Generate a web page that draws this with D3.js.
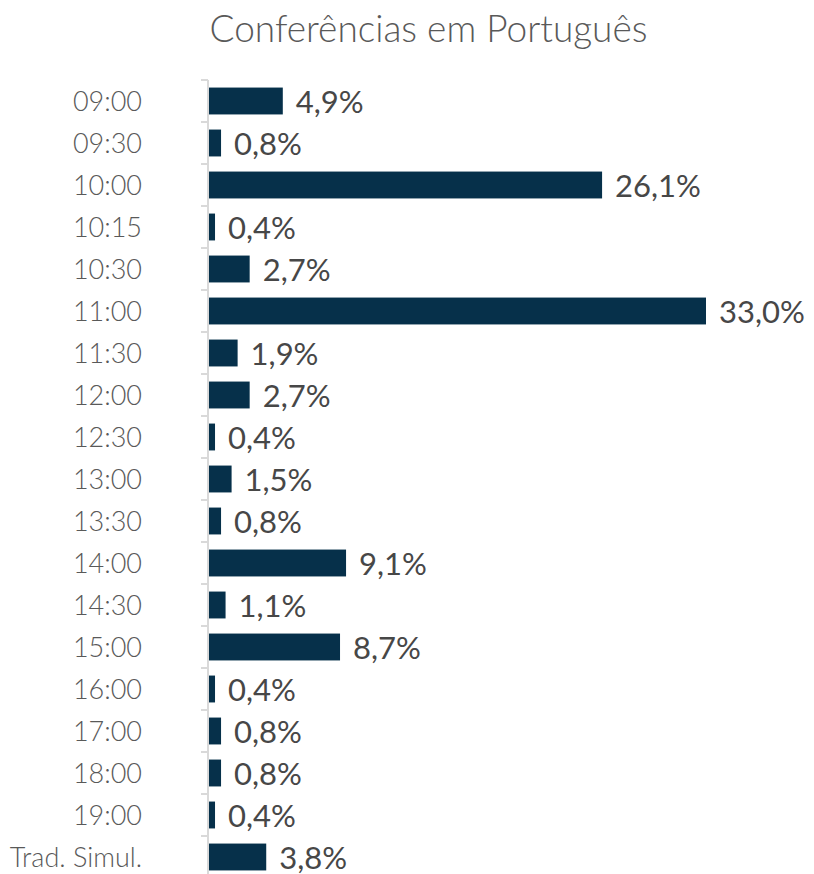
<!DOCTYPE html>
<html>
<head>
<meta charset="utf-8">
<script src="https://cdn.jsdelivr.net/npm/d3@7"></script>
<style>
  body { margin: 0; background: #fff; }
  svg { font-family: Lato, "Open Sans", sans-serif; }
</style>
</head>
<body>
<div id="chart"></div>
<script>
// chart data
var categories = ["09:00", "09:30", "10:00", "10:15", "10:30", "11:00", "11:30", "12:00", "12:30",
                  "13:00", "13:30", "14:00", "14:30", "15:00", "16:00", "17:00", "18:00", "19:00", "Trad. Simul."];
var values = [4.9, 0.8, 26.1, 0.4, 2.7, 33.0, 1.9, 2.7, 0.4, 1.5, 0.8, 9.1, 1.1, 8.7, 0.4, 0.8, 0.8, 0.4, 3.8];
var title = "Conferências em Português";

var W = 814, H = 874;
var margin = {top: 80, left: 208};

var svg = d3.select("#chart").append("svg")
    .attr("width", W)
    .attr("height", H);

// scales
var x = d3.scaleLinear().domain([0, 33]).range([0, 497]);
var y = d3.scaleBand().domain(categories).range([0, 42 * categories.length]).paddingInner(0.36).paddingOuter(0.18);

var g = svg.append("g")
    .attr("transform", "translate(" + margin.left + "," + margin.top + ")");

// title
svg.append("text")
    .attr("x", 428.5)
    .attr("y", 42)
    .attr("text-anchor", "middle")
    .attr("fill", "#595959")
    .style("font-size", "37px")
    .style("font-weight", 300)
    .text(title);

// axis line + ticks at category boundaries
g.append("line")
    .attr("x1", 0).attr("x2", 0)
    .attr("y1", 0).attr("y2", H - margin.top)
    .attr("stroke", "#d9d9d9")
    .attr("stroke-width", 2);

g.selectAll(".tick")
    .data(d3.range(categories.length + 1))
    .join("line")
    .attr("class", "tick")
    .attr("x1", -7).attr("x2", 0)
    .attr("y1", i => i * y.step())
    .attr("y2", i => i * y.step())
    .attr("stroke", "#d9d9d9")
    .attr("stroke-width", 2);

// category labels
g.selectAll(".cat")
    .data(categories)
    .join("text")
    .attr("class", "cat")
    .attr("x", -66)
    .attr("y", d => y(d) + y.bandwidth() / 2 + 10)
    .attr("text-anchor", "end")
    .attr("fill", "#595959")
    .style("font-size", "27px")
    .style("font-weight", 300)
    .text(d => d);

// bars
g.selectAll(".bar")
    .data(values)
    .join("rect")
    .attr("class", "bar")
    .attr("x", 1)
    .attr("y", (d, i) => y(categories[i]))
    .attr("width", d => x(d))
    .attr("height", y.bandwidth())
    .attr("fill", "#06304a");

// value labels
g.selectAll(".val")
    .data(values)
    .join("text")
    .attr("class", "val")
    .attr("x", d => x(d) + 14)
    .attr("y", (d, i) => y(categories[i]) + y.bandwidth() / 2 + 11.5)
    .attr("fill", "#474747")
    .style("font-size", "31px")
    .text(d => d.toFixed(1).replace(".", ",") + "%");
</script>
</body>
</html>
